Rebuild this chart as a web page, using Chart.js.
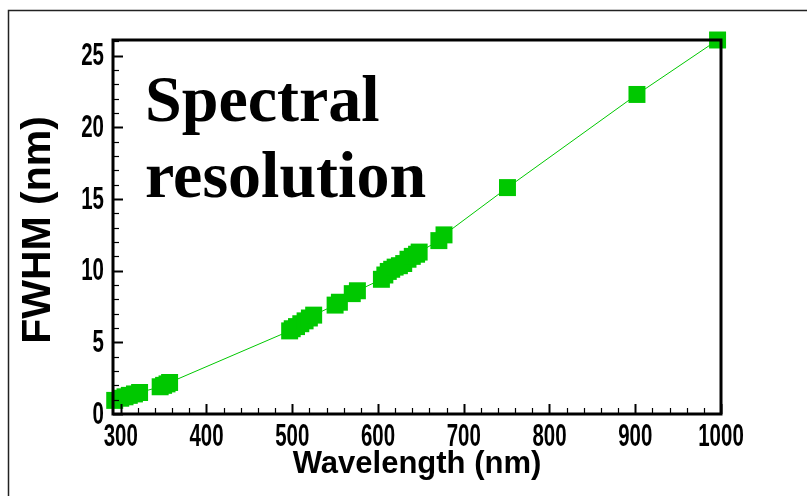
<!DOCTYPE html>
<html><head><meta charset="utf-8">
<script src="https://cdn.jsdelivr.net/npm/chart.js@4/dist/chart.umd.min.js"></script>
<style>html,body{margin:0;padding:0;background:#fff;overflow:hidden}</style>
</head><body>
<canvas id="c" width="807" height="496"></canvas>
<script>
const wavelengths = [293,300,305,310,316,322, 346,350,354,357, 497,500,505,510,515,520,525, 550,555, 570,576, 604,608,612,616,620,625,630,635,640,645,648, 671,677, 751, 902, 996];
const fwhm = [0.95,1.1,1.2,1.3,1.4,1.5, 1.9,2.0,2.1,2.2, 5.8,5.95,6.1,6.3,6.5,6.7,6.9, 7.6,7.8, 8.4,8.6, 9.4,9.7,9.95,10.1,10.25,10.35,10.5,10.8,11.0,11.15,11.3, 12.1,12.5, 15.8,22.3,26.1];
const xTickValues = [300,400,500,600,700,800,900,1000];
const yTickValues = [0,5,10,15,20,25];
const xTitle = 'Wavelength (nm)';
const yTitle = 'FWHM (nm)';
const annotationLines = ['Spectral', 'resolution'];

const points = wavelengths.map((x, i) => ({x: x, y: fwhm[i]}));

const axesPlugin = {
  id: 'axesPlugin',
  afterDatasetsDraw(chart) {
    const {ctx, chartArea: a, scales: {x, y}} = chart;
    ctx.save();
    // outer frame
    ctx.strokeStyle = '#222';
    ctx.lineWidth = 1.5;
    ctx.beginPath();
    ctx.moveTo(8.5, 496); ctx.lineTo(8.5, 10.5); ctx.lineTo(807, 10.5);
    ctx.stroke();
    // minor/major ticks (inward)
    ctx.strokeStyle = '#000';
    for (let v = 300; v <= 1000; v += 20) {
      const px = Math.round(x.getPixelForValue(v)) + 0.5;
      const major = v % 100 === 0;
      ctx.lineWidth = major ? 2 : 1.2;
      ctx.beginPath(); ctx.moveTo(px, a.bottom); ctx.lineTo(px, a.bottom - (major ? 10 : 6)); ctx.stroke();
    }
    for (let v = 0; v <= 26; v += 1) {
      const py = Math.round(y.getPixelForValue(v)) + 0.5;
      const major = v % 5 === 0;
      ctx.lineWidth = major ? 2 : 1.2;
      ctx.beginPath(); ctx.moveTo(a.left, py); ctx.lineTo(a.left + (major ? 10 : 6), py); ctx.stroke();
    }
    // axes box
    ctx.lineWidth = 3;
    ctx.strokeRect(a.left, a.top, a.right - a.left, a.bottom - a.top);
    // tick labels
    ctx.fillStyle = '#000';
    ctx.font = 'bold 31px "Liberation Sans", Arial, sans-serif';
    ctx.textBaseline = 'middle';
    x.ticks.forEach(t => {
      const px = x.getPixelForValue(t.value);
      ctx.save(); ctx.translate(px, 437); ctx.scale(0.66, 1);
      ctx.textAlign = 'center'; ctx.fillText(String(t.value), 0, 0); ctx.restore();
    });
    y.ticks.forEach(t => {
      const py = y.getPixelForValue(t.value);
      ctx.save(); ctx.translate(a.left - 9, py + 1); ctx.scale(0.66, 1);
      ctx.textAlign = 'right'; ctx.fillText(String(t.value), 0, 0); ctx.restore();
    });
    // axis titles
    ctx.font = 'bold 31px "Liberation Sans", Arial, sans-serif';
    ctx.textAlign = 'center';
    ctx.fillText(xTitle, (a.left + a.right) / 2, 464);
    ctx.save();
    ctx.translate(39, 230); ctx.rotate(-Math.PI / 2);
    ctx.font = 'bold 41px "Liberation Sans", Arial, sans-serif';
    ctx.fillText(yTitle, 0, 0);
    ctx.restore();
    // annotation
    ctx.font = 'bold 66px "Liberation Serif", "Times New Roman", serif';
    ctx.textAlign = 'left';
    ctx.textBaseline = 'alphabetic';
    ctx.fillText(annotationLines[0], 145, 121);
    ctx.fillText(annotationLines[1], 145, 197);
    ctx.restore();
  }
};

new Chart(document.getElementById('c'), {
  type: 'scatter',
  data: {
    datasets: [{
      data: points,
      showLine: true,
      borderColor: '#00c800',
      borderWidth: 1,
      backgroundColor: '#00c800',
      pointStyle: 'rect',
      pointRadius: 12,
      pointBorderWidth: 0,
      pointBackgroundColor: '#00c800',
      clip: false
    }]
  },
  options: {
    responsive: false,
    animation: false,
    events: [],
    layout: {padding: {left: 8, top: 40, right: 86, bottom: 0}},
    plugins: {legend: {display: false}, tooltip: {enabled: false}},
    scales: {
      x: {
        type: 'linear', min: 291, max: 1000,
        ticks: {display: false},
        grid: {display: false},
        border: {display: false},
        afterBuildTicks: s => { s.ticks = xTickValues.map(v => ({value: v})); },
        afterFit: s => { s.height = 82; }
      },
      y: {
        type: 'linear', min: 0, max: 26.1,
        ticks: {display: false},
        grid: {display: false},
        border: {display: false},
        afterBuildTicks: s => { s.ticks = yTickValues.map(v => ({value: v})); },
        afterFit: s => { s.width = 105; }
      }
    }
  },
  plugins: [axesPlugin]
});
</script>
</body></html>
